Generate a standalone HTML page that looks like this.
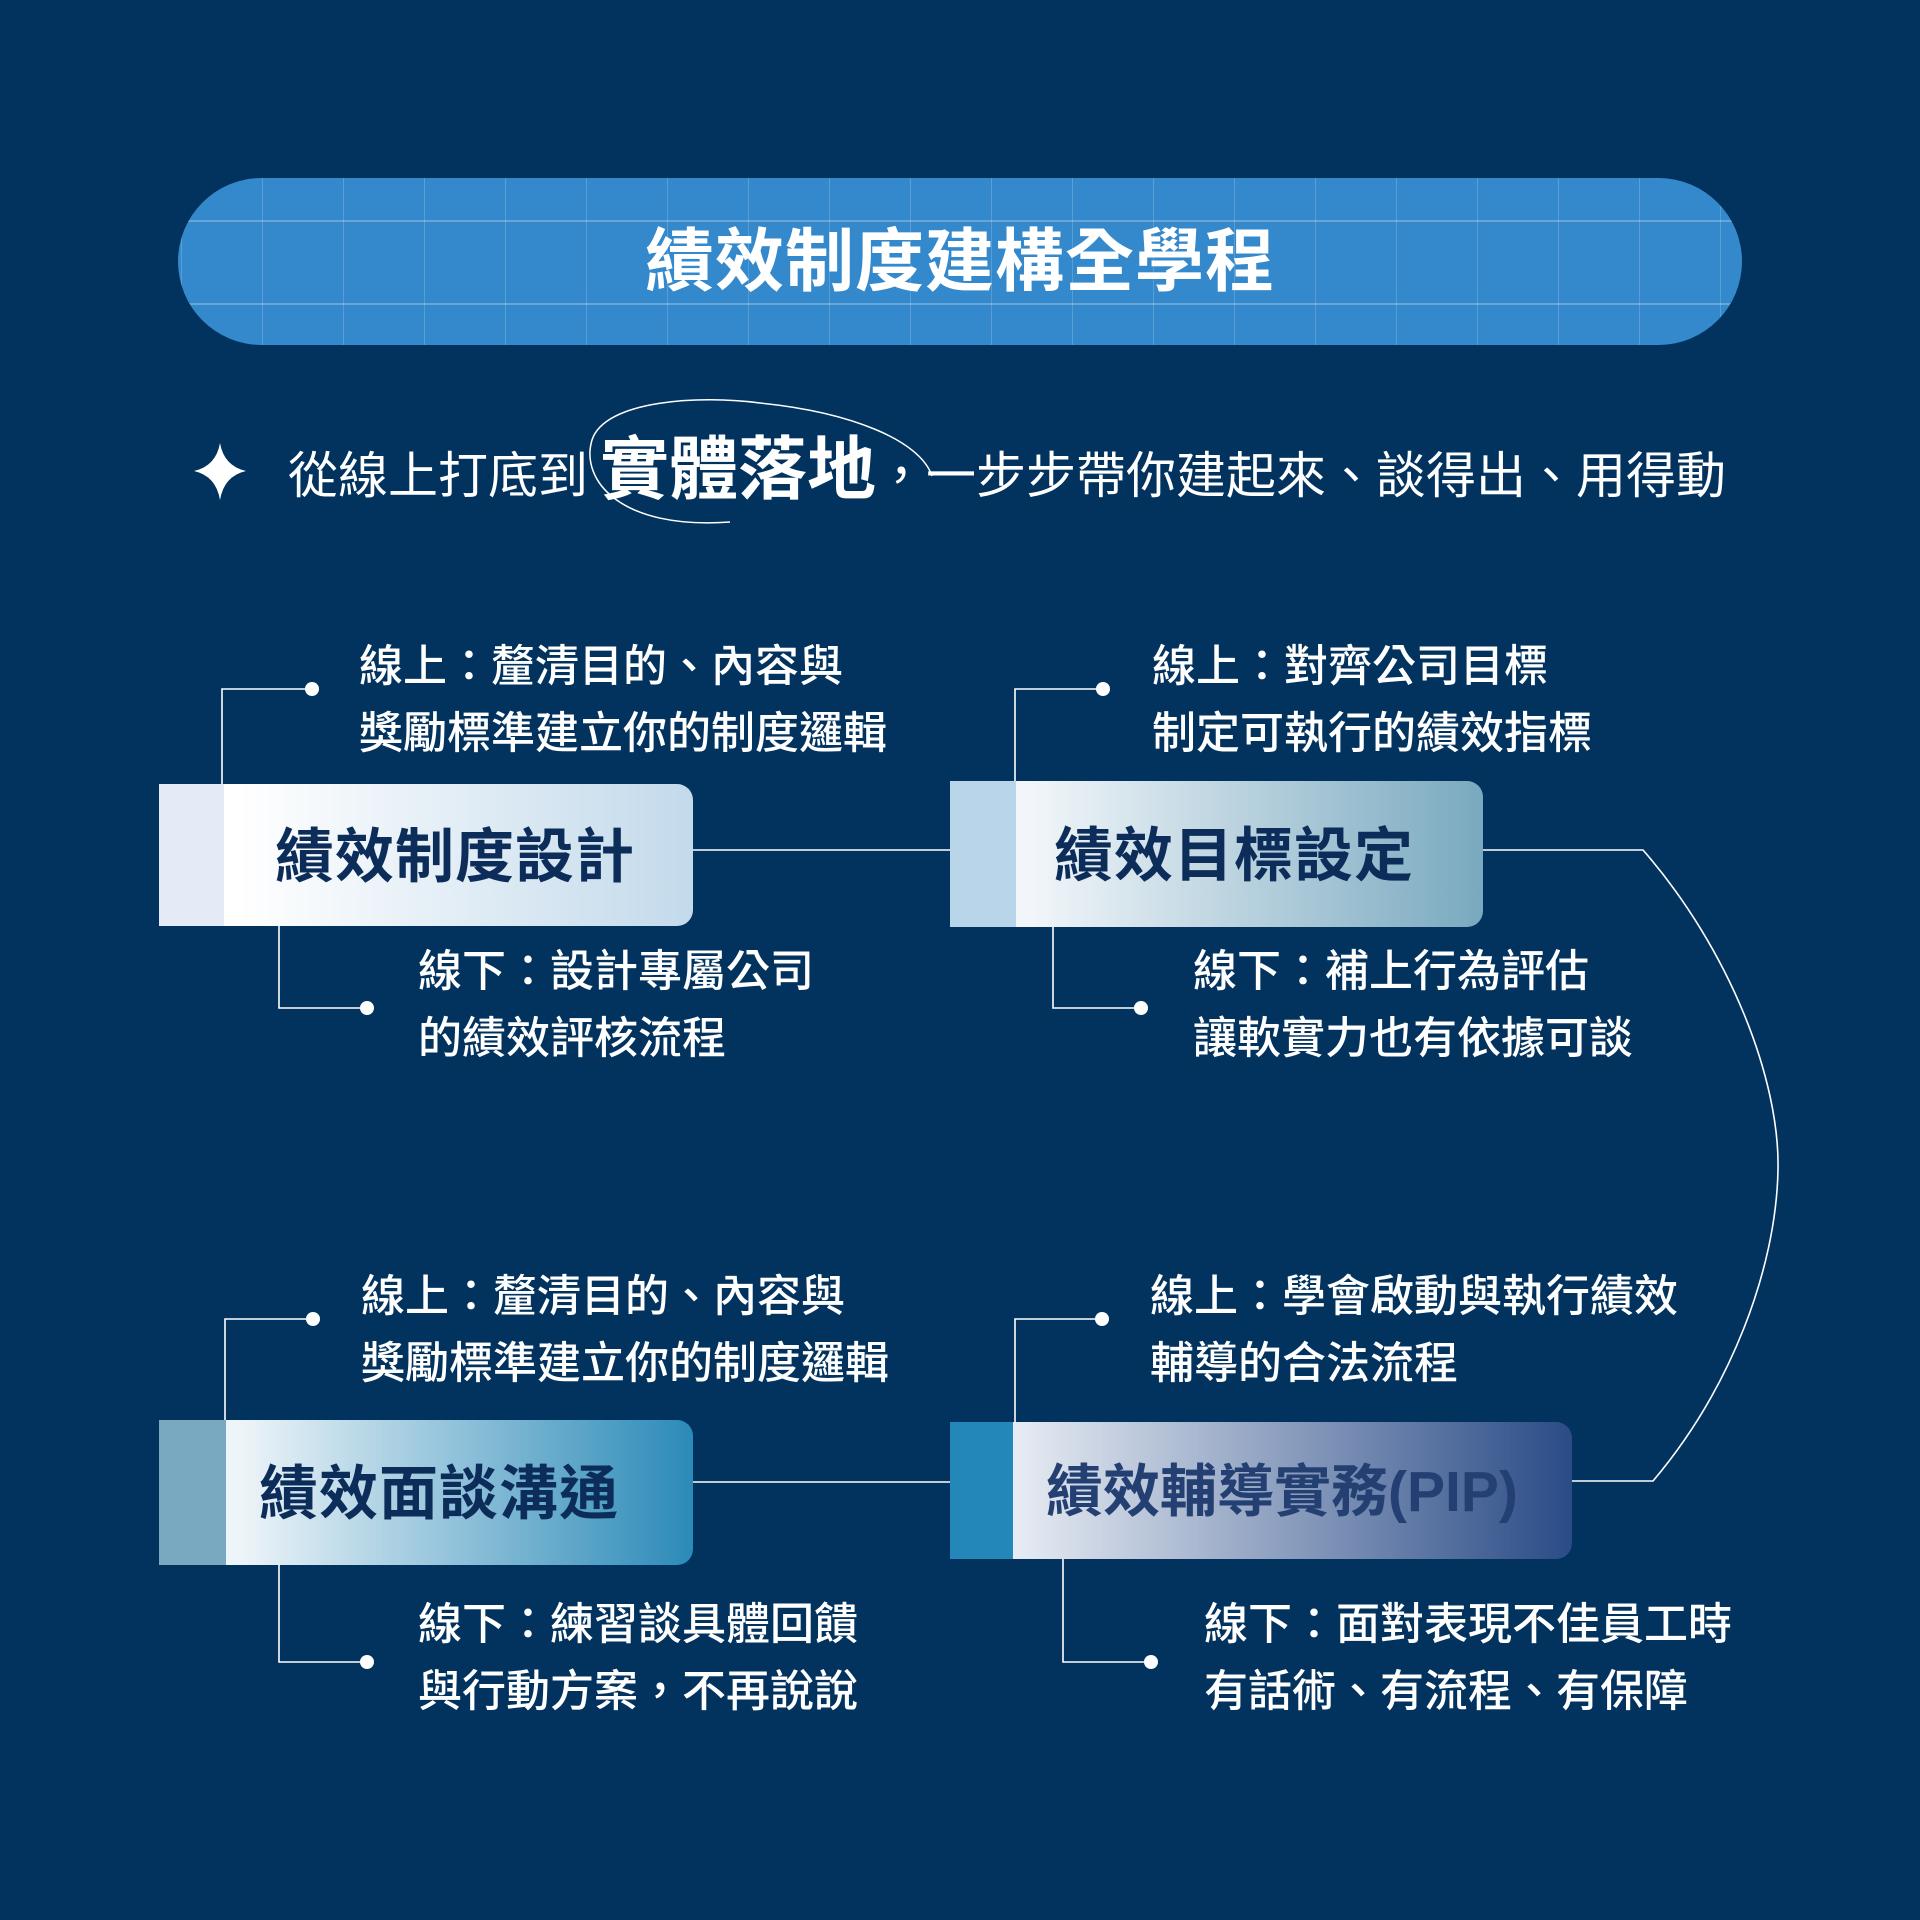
<!DOCTYPE html>
<html><head><meta charset="utf-8"><style>
html,body{margin:0;padding:0}
body{width:1920px;height:1920px;background:#02335f;position:relative;overflow:hidden;font-family:"Liberation Sans","Noto Sans CJK TC",sans-serif;color:#fff}
.abs{position:absolute}
.banner{left:178px;top:178px;width:1564px;height:167px;border-radius:84px;background:#3488cc;overflow:hidden;
background-image:linear-gradient(90deg,rgba(255,255,255,.18) 1px,transparent 1px),linear-gradient(0deg,rgba(255,255,255,.25) 2px,transparent 2px);
background-size:81px 100%,100% 83px;background-position:84px 0,0 44px}
.title{left:0;width:1920px;top:222px;text-align:center;font-size:69px;font-weight:bold;line-height:80px;letter-spacing:1px}
.sub{top:432px;left:288px;font-size:50px;line-height:76px;white-space:nowrap}
.sub b{font-size:69px;margin-left:12px}
.box{height:142px;border-radius:0 16px 16px 0;overflow:hidden}
.box .strip{position:absolute;left:0;top:0;bottom:0;width:65px}
.box .lbl{position:absolute;left:0;right:0;top:-8px;bottom:0;display:flex;align-items:center;font-size:59px;font-weight:bold;color:#0c2d5a;letter-spacing:1px}
.t{font-size:44px;line-height:67px;white-space:nowrap;font-weight:500}
</style></head><body>
<div class="abs banner"></div>
<div class="abs title">績效制度建構全學程</div>

<svg class="abs" style="left:0;top:0" width="1920" height="1920">
<path d="M220 443 Q224 466 246 471 Q224 476 220 500 Q216 476 194 471 Q216 466 220 443Z" fill="#fff"/>
<path d="M730 522 C620 530 580 480 592 440 C605 400 700 395 760 403 C850 412 920 440 932 476" fill="none" stroke="#fff" stroke-width="1.5"/>
<g stroke="#fff" stroke-width="1.6" fill="none">
<line x1="693" y1="850" x2="950" y2="850"/>
<line x1="693" y1="1482" x2="950" y2="1482"/>
<path d="M1483 850 L1643 850 C1730 950 1780 1080 1778 1170 C1776 1270 1730 1390 1653 1481 L1572 1481"/>
<polyline points="222,784 222,689 312,689"/>
<polyline points="279,926 279,1008 367,1008"/>
<polyline points="1015,781 1015,689 1103,689"/>
<polyline points="1053,927 1053,1008 1141,1008"/>
<polyline points="225,1420 225,1319 313,1319"/>
<polyline points="279,1565 279,1662 367,1662"/>
<polyline points="1015,1422 1015,1319 1102,1319"/>
<polyline points="1063,1559 1063,1662 1151,1662"/>
</g>
<g fill="#fff">
<circle cx="312" cy="689" r="7"/><circle cx="367" cy="1008" r="7"/>
<circle cx="1103" cy="689" r="7"/><circle cx="1141" cy="1008" r="7"/>
<circle cx="313" cy="1319" r="7"/><circle cx="367" cy="1662" r="7"/>
<circle cx="1102" cy="1319" r="7"/><circle cx="1151" cy="1662" r="7"/>
</g>
</svg>

<div class="abs sub">從線上打底到<b>實體落地</b>，一步步帶你建起來、談得出、用得動</div>

<div class="abs box" style="left:159px;top:784px;width:534px;background:linear-gradient(90deg,#ffffff 15%,#c3daeb)">
<div class="strip" style="background:#e4ebf6"></div><div class="lbl" style="padding-left:116px">績效制度設計</div></div>
<div class="abs box" style="left:950px;top:781px;width:533px;height:146px;background:linear-gradient(90deg,#f2f6fa 15%,#79a9bf)">
<div class="strip" style="background:#b8d5e9;width:66px"></div><div class="lbl" style="padding-left:104px">績效目標設定</div></div>
<div class="abs box" style="left:159px;top:1420px;width:534px;height:145px;background:linear-gradient(90deg,#eef5f9 15%,#2b8ab8)">
<div class="strip" style="background:#78a9c0;width:67px"></div><div class="lbl" style="padding-left:100px">績效面談溝通</div></div>
<div class="abs box" style="left:950px;top:1422px;width:622px;height:137px;background:linear-gradient(90deg,#e8edf4 10%,#2a4b86)">
<div class="strip" style="background:#2387b9;width:63px"></div><div class="lbl" style="padding-left:96px;color:#243f72;font-size:57px;font-weight:600;letter-spacing:0">績效輔導實務(PIP)</div></div>

<div class="abs t" style="left:359px;top:633px">線上：釐清目的、內容與<br>獎勵標準建立你的制度邏輯</div>
<div class="abs t" style="left:418px;top:938px">線下：設計專屬公司<br>的績效評核流程</div>
<div class="abs t" style="left:1152px;top:633px">線上：對齊公司目標<br>制定可執行的績效指標</div>
<div class="abs t" style="left:1193px;top:938px">線下：補上行為評估<br>讓軟實力也有依據可談</div>
<div class="abs t" style="left:361px;top:1263px">線上：釐清目的、內容與<br>獎勵標準建立你的制度邏輯</div>
<div class="abs t" style="left:418px;top:1591px">線下：練習談具體回饋<br>與行動方案，不再說說</div>
<div class="abs t" style="left:1150px;top:1263px">線上：學會啟動與執行績效<br>輔導的合法流程</div>
<div class="abs t" style="left:1204px;top:1591px">線下：面對表現不佳員工時<br>有話術、有流程、有保障</div>
</body></html>
